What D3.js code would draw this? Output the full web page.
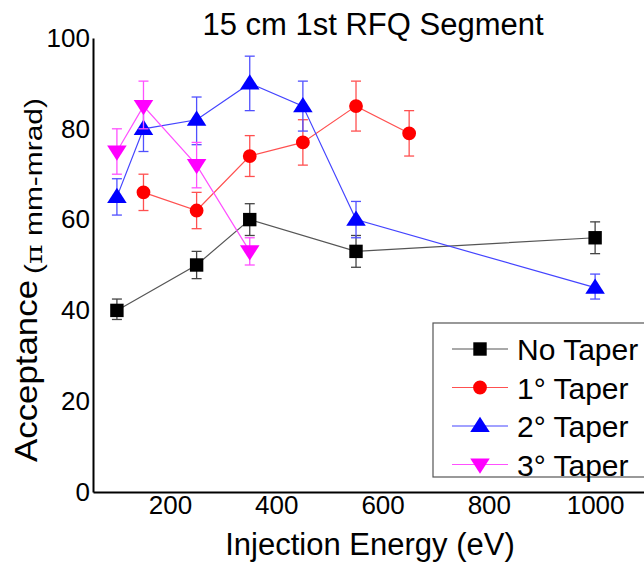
<!DOCTYPE html>
<html>
<head>
<meta charset="utf-8">
<script src="https://cdn.jsdelivr.net/npm/d3@7"></script>
<style>
  body { margin: 0; background: #fff; }
  svg text { font-family: "Liberation Sans", Arial, sans-serif; }
</style>
</head>
<body>
<script>
// injection energies (eV) per series
const energyNo = [100, 250, 350, 550, 1000];
const energy1 = [150, 250, 350, 450, 550, 650];
const energy2 = [100, 150, 250, 350, 450, 550, 1000];
const energy3 = [100, 150, 250, 350];

// acceptance values with lower / upper error bar ends
const accNo = [40, 50, 60, 53, 56];
const lowNo = [38, 47, 56.5, 49.5, 52.5];
const highNo = [42.5, 53, 63.5, 56.5, 59.5];

const acc1 = [66, 62, 74, 77, 85, 79];
const low1 = [62, 58, 69.5, 72, 79.5, 74];
const high1 = [70, 66, 78.5, 82, 90.5, 84];

const acc2 = [65, 80, 82, 90, 85, 60, 45];
const low2 = [61, 75, 76.5, 84, 79.5, 56, 42.5];
const high2 = [69, 85, 87, 96, 90.5, 64, 48];

const acc3 = [75, 85, 72, 53];
const low3 = [70, 80, 67, 50];
const high3 = [80, 90.5, 77, 56];

const seriesNames = ["No Taper", "1° Taper", "2° Taper", "3° Taper"];
const xTicks = [200, 400, 600, 800, 1000];
const yTicks = [0, 20, 40, 60, 80, 100];

const W = 644, H = 565;
const svg = d3.select("body").append("svg")
    .attr("width", W)
    .attr("height", H)
    .attr("font-family", "'Liberation Sans', Arial, sans-serif");

const x = d3.scaleLinear().domain([55, 1092]).range([93, 644]);
const y = d3.scaleLinear().domain([0, 100]).range([492, 38]);

const series = [
    {e: energyNo, v: accNo, lo: lowNo, hi: highNo, color: "#000000", line: "#555555", err: "#444444", sym: d3.symbolSquare, size: 180, rot: 0},
    {e: energy1, v: acc1, lo: low1, hi: high1, color: "#ff0000", line: "#ff5050", err: "#ff5050", sym: d3.symbolCircle, size: 150, rot: 0},
    {e: energy2, v: acc2, lo: low2, hi: high2, color: "#0000ff", line: "#4444ff", err: "#5050ff", sym: d3.symbolTriangle, size: 150, rot: 0},
    {e: energy3, v: acc3, lo: low3, hi: high3, color: "#ff00ff", line: "#ff50ff", err: "#ff50ff", sym: d3.symbolTriangle, size: 150, rot: 180}
];

function markerTransform(s, px, py) {
    if (s.sym === d3.symbolTriangle) {
        const dy = s.rot ? -1 : 1;
        return `translate(${px},${py + dy}) rotate(${s.rot}) scale(1.05,0.95)`;
    }
    return `translate(${px},${py})`;
}

// axes
const xAxis = svg.append("g")
    .attr("transform", `translate(0,${y(0)})`)
    .call(d3.axisBottom(x).tickValues(xTicks).tickFormat(d3.format("d")).tickSize(0).tickPadding(4));
const yAxis = svg.append("g")
    .attr("transform", `translate(${x(55)},0)`)
    .call(d3.axisLeft(y).tickValues(yTicks).tickSize(0).tickPadding(3));

[xAxis, yAxis].forEach(g => {
    g.attr("font-family", null);
    g.select(".domain").attr("stroke", "#000").attr("stroke-width", 2);
    g.selectAll("text").attr("font-size", 26).attr("fill", "#000");
});

// lines, error bars, markers
const line = d3.line();
series.forEach(s => {
    const pts = s.e.map((e, i) => [x(e), y(s.v[i])]);
    svg.append("path")
        .attr("d", line(pts))
        .attr("fill", "none")
        .attr("stroke", s.line)
        .attr("stroke-width", 1.2);

    const eg = svg.append("g").attr("stroke", s.err).attr("stroke-width", 1.3);
    s.e.forEach((e, i) => {
        const cx = x(e);
        eg.append("line").attr("x1", cx).attr("x2", cx).attr("y1", y(s.lo[i])).attr("y2", y(s.hi[i]));
        eg.append("line").attr("x1", cx - 5).attr("x2", cx + 5).attr("y1", y(s.lo[i])).attr("y2", y(s.lo[i]));
        eg.append("line").attr("x1", cx - 5).attr("x2", cx + 5).attr("y1", y(s.hi[i])).attr("y2", y(s.hi[i]));
    });

    svg.append("g").selectAll("path")
        .data(pts)
        .enter().append("path")
        .attr("d", d3.symbol().type(s.sym).size(s.size))
        .attr("transform", d => markerTransform(s, d[0], d[1]))
        .attr("fill", s.color);
});

// title
svg.append("text")
    .attr("x", 373)
    .attr("y", 35)
    .attr("text-anchor", "middle")
    .attr("font-size", 31)
    .text("15 cm 1st RFQ Segment");

// x label
svg.append("text")
    .attr("x", 370)
    .attr("y", 555)
    .attr("text-anchor", "middle")
    .attr("font-size", 31)
    .text("Injection Energy (eV)");

// y label, two parts with their own sizes
svg.append("text")
    .attr("transform", "translate(37,462) rotate(-90)")
    .attr("font-size", 32)
    .attr("textLength", 182)
    .attr("lengthAdjust", "spacingAndGlyphs")
    .text("Acceptance");
const yl2 = svg.append("text")
    .attr("transform", "translate(42,274) rotate(-90)")
    .attr("font-size", 23)
    .attr("textLength", 176)
    .attr("lengthAdjust", "spacingAndGlyphs");
yl2.append("tspan").text("(");
yl2.append("tspan").attr("font-family", "'DejaVu Serif', serif").text("π");
yl2.append("tspan").text(" mm-mrad)");

// legend
const lg = svg.append("g").attr("transform", "translate(433,323)");
lg.append("rect")
    .attr("width", 220)
    .attr("height", 154)
    .attr("fill", "#fff")
    .attr("stroke", "#555")
    .attr("stroke-width", 1.2);
series.forEach((s, i) => {
    const cy = 26 + i * 38.5;
    lg.append("line")
        .attr("x1", 19).attr("x2", 75)
        .attr("y1", cy).attr("y2", cy)
        .attr("stroke", s.line).attr("stroke-width", 1.2);
    lg.append("path")
        .attr("d", d3.symbol().type(s.sym).size(s.size))
        .attr("transform", markerTransform(s, 47, cy))
        .attr("fill", s.color);
    lg.append("text")
        .attr("x", 84)
        .attr("y", cy + 11)
        .attr("font-size", 30)
        .text(seriesNames[i]);
});
</script>
</body>
</html>
